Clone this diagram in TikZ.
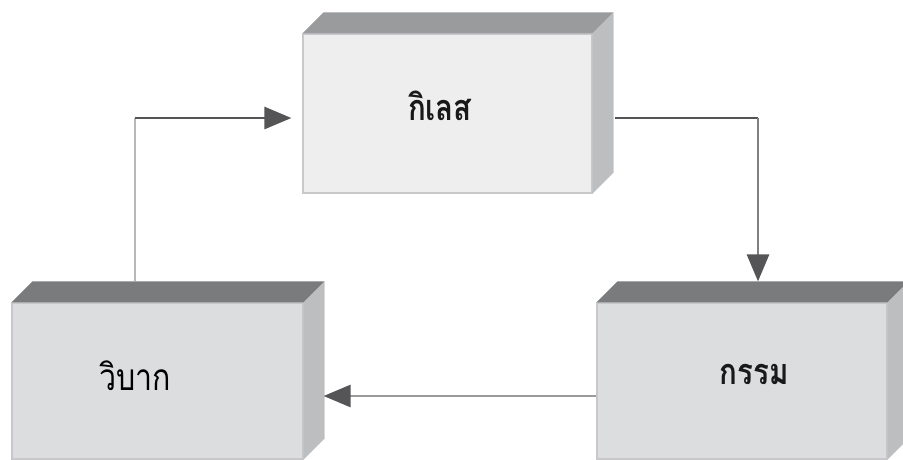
\documentclass[tikz,border=0pt]{standalone}
\usepackage{fontspec}
\newfontfamily\thai[Script=Thai,FakeStretch=0.82]{Loma}
\usetikzlibrary{arrows.meta,calc}
\definecolor{frontA}{HTML}{EEEEEE}
\definecolor{topA}{HTML}{9A9B9D}
\definecolor{frontB}{HTML}{DCDDDF}
\definecolor{topB}{HTML}{7A7B7D}
\definecolor{sideC}{HTML}{BDBEC0}
\definecolor{edgeC}{HTML}{C8C8CA}
\definecolor{lineDark}{HTML}{555557}
\definecolor{lineMid}{HTML}{808082}
\definecolor{lineLight}{HTML}{B8B8BA}
\definecolor{lineArr}{HTML}{9A9A9C}
\definecolor{tipC}{HTML}{555557}
\begin{document}
\begin{tikzpicture}[x=1pt,y=-1pt,
  frontbox/.style={rectangle,inner sep=0pt,draw=edgeC,line width=1.2pt},
  lbl/.style={font=\thai\fontsize{37}{40}\selectfont,text=black,inner sep=0pt},
  lblb/.style={font=\thai\bfseries\fontsize{36}{40}\selectfont,text=black!90,inner sep=0pt},
  tipend/.style={-{Triangle[length=27pt,width=22pt,fill=tipC,color=tipC]}},
  conn/.style={line width=2.8pt}
]
\useasboundingbox (0,0) rectangle (903,459);
\fill[white] (0,0) rectangle (903,459);

% front faces
\node[frontbox,fill=frontA,minimum width=289pt,minimum height=159pt] (kilesa) at (447.5,113.5) {};
\node[frontbox,fill=frontB,minimum width=291pt,minimum height=156pt] (vipak) at (157.5,381) {};
\node[frontbox,fill=frontB,minimum width=290pt,minimum height=156pt] (karma) at (742,381) {};

% top and side faces
\foreach \n/\tc in {kilesa/topA,vipak/topB,karma/topB}{
  \fill[\tc] (\n.north west) -- ++(21,-21) -- ($(\n.north east)+(21,-21)$) -- (\n.north east) -- cycle;
  \fill[sideC] (\n.north east) -- ++(21,-21) -- ($(\n.south east)+(21,-21)$) -- (\n.south east) -- cycle;
  \draw[edgeC!70!white,line width=1pt] ($(\n.north east)+(21,-21)$) -- ($(\n.south east)+(21,-21)$);
}

% labels
\node[lblb] (t1) at (440,106) {กิเลส};
\node[lbl] (t2) at (135,376) {วิบาก};
\node[lblb] (t3) at (754,374) {กรรม};

% connector coordinates
\coordinate (a1s) at ($(vipak.north)+(-22.5,-21)$);
\coordinate (a1e) at ($(kilesa.west)+(-11,4.5)$);
\coordinate (a2s) at ($(kilesa.east)+(22,4.5)$);
\coordinate (a2e) at ($(karma.north)+(16,-21)$);
\coordinate (a3s) at ($(karma.west)+(0,15)$);
\coordinate (a3e) at ($(vipak.east)+(20,15)$);

% connectors
\draw[conn,lineLight] (a1s) -- (a1s |- a1e);
\draw[conn,lineDark,tipend] (a1s |- a1e) -- (a1e);
\draw[conn,lineDark] (a2s) -- (a2s -| a2e);
\draw[conn,lineMid,tipend] (a2s -| a2e) -- (a2e);
\draw[conn,lineArr,tipend] (a3s) -- (a3e);
\end{tikzpicture}
\end{document}
